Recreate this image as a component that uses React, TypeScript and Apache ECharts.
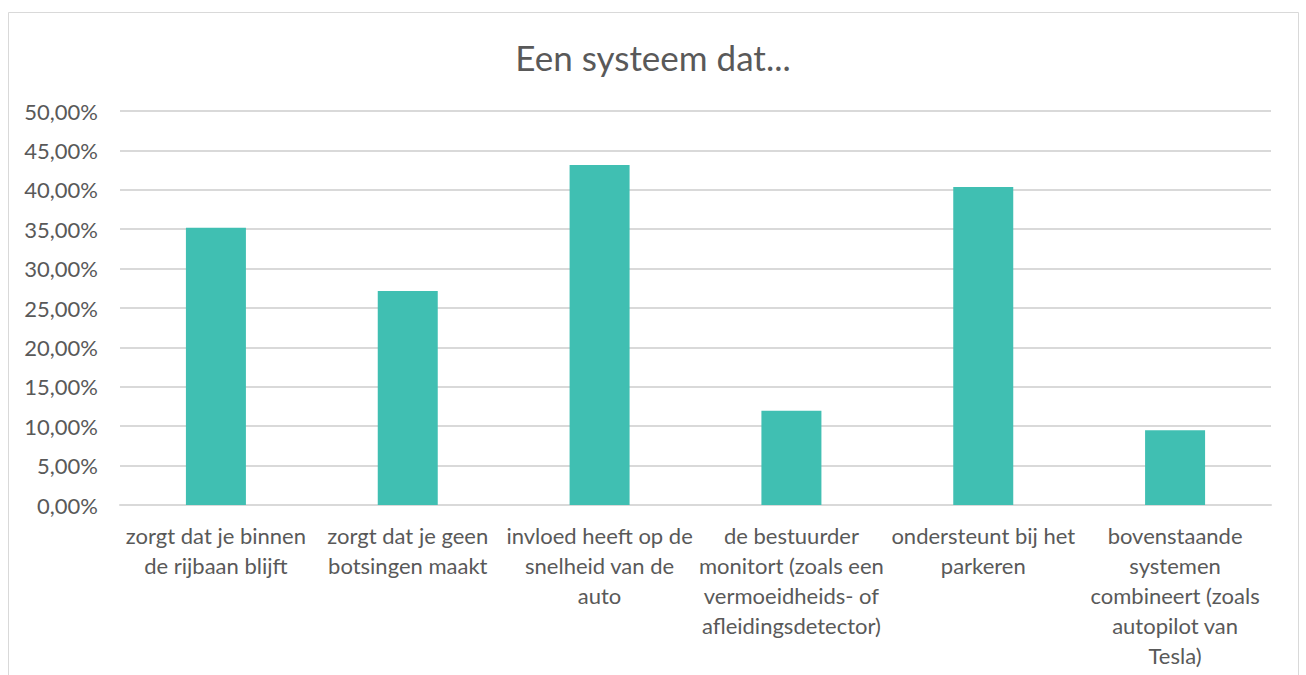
import React, { useEffect, useRef } from "react";
import * as echarts from "echarts";

const titleText = "Een systeem dat...";
const categories = [
  "zorgt dat je binnen\nde rijbaan blijft",
  "zorgt dat je geen\nbotsingen maakt",
  "invloed heeft op de\nsnelheid van de\nauto",
  "de bestuurder\nmonitort (zoals een\nvermoeidheids- of\nafleidingsdetector)",
  "ondersteunt bij het\nparkeren",
  "bovenstaande\nsystemen\ncombineert (zoals\nautopilot van\nTesla)",
];
const values = [0.3519, 0.2716, 0.4315, 0.1196, 0.4036, 0.0948];

export default function App() {
  const ref = useRef<HTMLDivElement>(null);
  useEffect(() => {
    if (!ref.current) return;
    const chart = echarts.init(ref.current, null, { renderer: "svg" });
    const font = "Lato, 'Open Sans', sans-serif";
    chart.setOption({
      animation: false,
      backgroundColor: "#ffffff",
      title: {
        text: titleText,
        left: "center",
        top: 34,
        textStyle: { fontFamily: font, fontSize: 35, fontWeight: "normal", color: "#595959" },
      },
      graphic: [
        {
          type: "rect",
          shape: { x: 8.5, y: 12.5, width: 1290, height: 700 },
          style: { fill: "none", stroke: "#d9d9d9", lineWidth: 1 },
          silent: true,
        },
      ],
      grid: { left: 120, right: 35, top: 111, bottom: 170, containLabel: false },
      xAxis: {
        type: "category",
        data: categories,
        axisLine: { lineStyle: { color: "#d9d9d9", width: 2 } },
        axisTick: { show: false },
        axisLabel: {
          interval: 0,
          fontFamily: font,
          fontSize: 22,
          color: "#595959",
          lineHeight: 30,
          margin: 15,
          verticalAlign: "top",
        },
      },
      yAxis: {
        type: "value",
        min: 0,
        max: 0.5,
        interval: 0.05,
        axisLine: { show: false },
        axisTick: { show: false },
        splitLine: { lineStyle: { color: "#d9d9d9", width: 2 } },
        axisLabel: {
          fontFamily: font,
          fontSize: 22,
          color: "#595959",
          margin: 22,
          formatter: (v: number) => (v * 100).toFixed(2).replace(".", ",") + "%",
        },
      },
      series: [
        {
          type: "bar",
          data: values,
          barWidth: 60,
          itemStyle: { color: "#40bfb2" },
        },
      ],
    });
    return () => chart.dispose();
  }, []);
  return (
    <div
      ref={ref}
      style={{ position: "absolute", left: 0, top: 0, width: 1306, height: 675 }}
    />
  );
}
